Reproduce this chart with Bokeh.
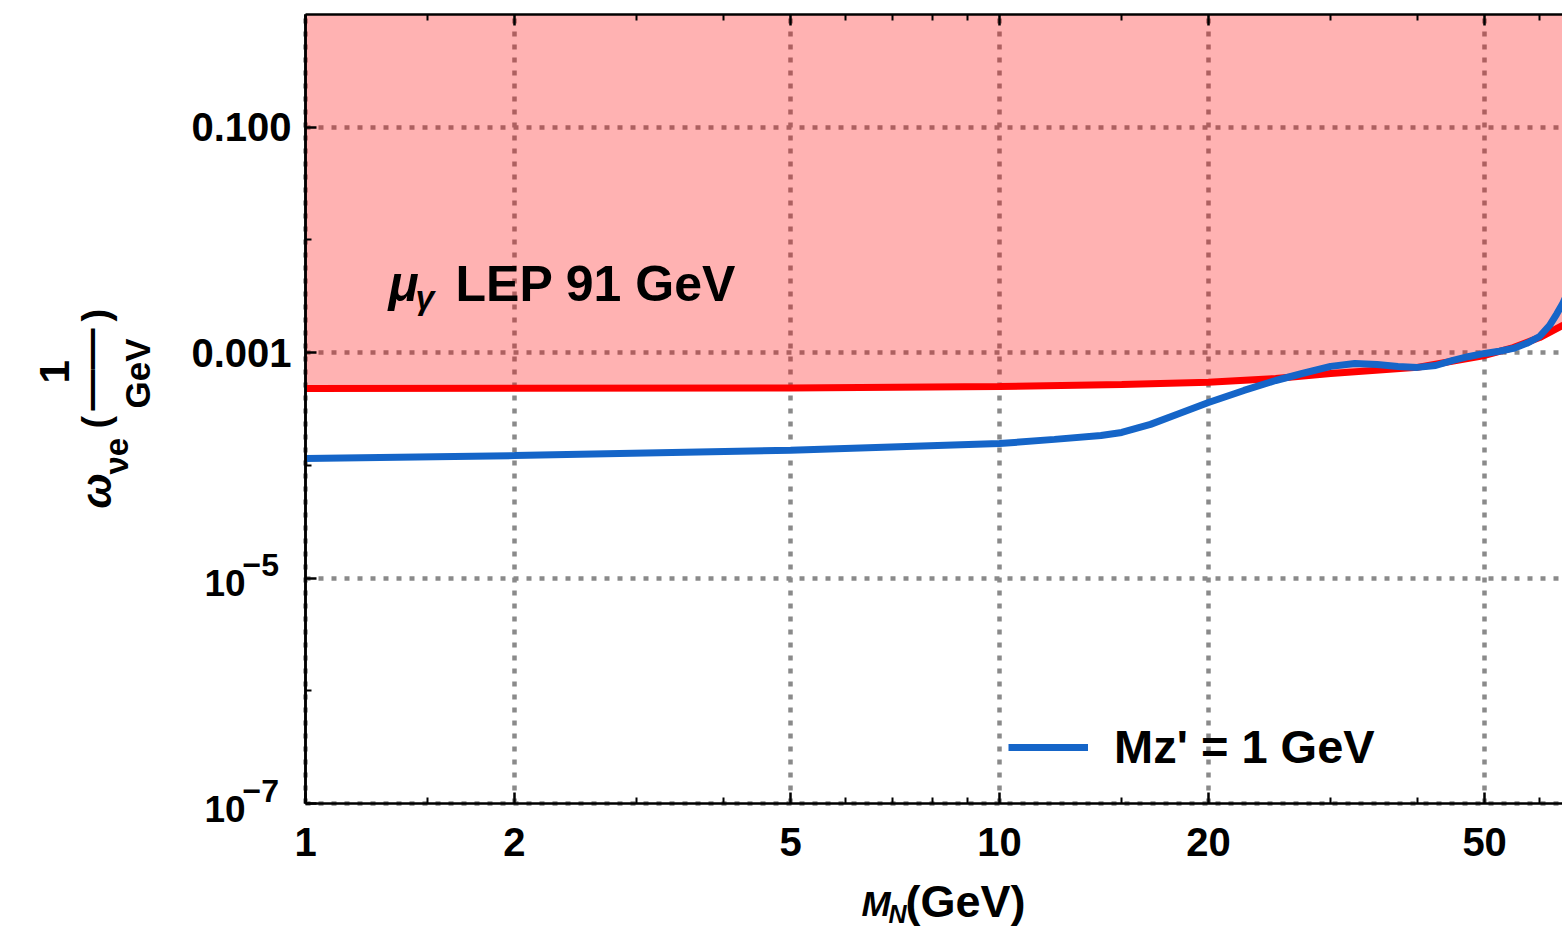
import math
from bokeh.plotting import figure
from bokeh.models import (Range1d, FixedTicker, LogAxis, Label, Legend, LegendItem,
                          ColumnDataSource)
from bokeh.embed import file_html
from bokeh.resources import INLINE

# ---------------- data ----------------
mn_red = [1, 2, 5, 10, 15, 20, 25, 30, 40, 50, 55, 60, 64.7, 70]
omega_red = [4.81e-4, 4.84e-4, 4.86e-4, 5.0e-4, 5.22e-4, 5.45e-4, 5.9e-4, 6.53e-4,
             7.4e-4, 9.44e-4, 1.11e-3, 1.36e-3, 1.74e-3, 2.0e-3]
omega_top = [1.0] * len(mn_red)

mn_blue = [1, 2, 5, 10, 12, 14, 15, 16.5, 18, 20, 22.5, 25, 27.3, 30, 32.5, 35, 37.5,
           40, 42.5, 45, 47.5, 50, 52.5, 55, 57.5, 60, 62, 63.5, 64.7, 66]
omega_blue = [1.15e-4, 1.22e-4, 1.36e-4, 1.56e-4, 1.70e-4, 1.84e-4, 1.96e-4, 2.31e-4,
              2.83e-4, 3.61e-4, 4.62e-4, 5.66e-4, 6.53e-4, 7.55e-4, 8.02e-4, 7.85e-4,
              7.55e-4, 7.40e-4, 7.69e-4, 8.53e-4, 9.25e-4, 9.84e-4, 1.03e-3, 1.09e-3,
              1.21e-3, 1.39e-3, 1.74e-3, 2.2e-3, 2.68e-3, 3.5e-3]

x_major = [1, 2, 5, 10, 20, 50]
x_minor = [1.5, 3, 4, 6, 7, 8, 9, 15, 30, 40, 60, 70, 80, 90]
y_major = [1e-7, 1e-5, 1e-3, 1e-1]
y_decimal = [1e-3, 1e-1]          # labelled as decimals
y_power = [1e-7, 1e-5]            # labelled as powers of ten
y_minor = [1e-6, 1e-4, 1e-2]
x_labels = {1: "1", 2: "2", 5: "5", 10: "10", 20: "20", 50: "50"}
y_labels = {1e-1: "0.100", 1e-3: "0.001"}
y_exponents = ["\u22127", "\u22125"]

legend_text = "Mz' = 1 GeV"
region_text = "LEP 91 GeV"

# ---------------- geometry ----------------
W, H = 1562, 940
FL, FR, FT, FB = 305, 1562, 14, 803   # edges of the plotting box in canvas px
X0, X1, Y0, Y1 = 1.0, 64.74, 1e-7, 1.0
FONT = "Liberation Sans"
SHIFT = 0.37   # baseline correction (fraction of font size)


def dx(cx):
    lx0, lx1 = math.log10(X0), math.log10(X1)
    return 10 ** (lx0 + (cx - FL) / (FR - FL) * (lx1 - lx0))


def dy(cy):
    ly0, ly1 = math.log10(Y0), math.log10(Y1)
    return 10 ** (ly0 + (FB - cy) / (FB - FT) * (ly1 - ly0))


def cy_of(v):
    ly0, ly1 = math.log10(Y0), math.log10(Y1)
    return FB - (math.log10(v) - ly0) / (ly1 - ly0) * (FB - FT)


# the frame covers the whole canvas; axes are pinned to the plotting box
p = figure(width=W, height=H, x_axis_type="log", y_axis_type="log",
           x_range=Range1d(dx(0), dx(W)), y_range=Range1d(dy(H), dy(0)),
           output_backend="svg", toolbar_location=None,
           min_border_left=0, min_border_right=0, min_border_top=0,
           min_border_bottom=0)
p.outline_line_color = None
p.background_fill_color = "white"
p.border_fill_color = "white"
p.xgrid.visible = False
p.ygrid.visible = False


def style_axis(ax):
    ax.axis_line_color = "black"
    ax.axis_line_width = 2.5
    ax.major_tick_in = 11
    ax.major_tick_out = 0
    ax.minor_tick_in = 6
    ax.minor_tick_out = 0
    ax.major_tick_line_width = 2.5
    ax.minor_tick_line_width = 2
    ax.major_label_text_font = FONT
    ax.major_label_text_font_style = "bold"
    ax.major_label_text_font_size = "40px"
    ax.major_label_text_color = "black"


# dotted grid: long inward ticks of pinned helper axes, drawn under the data
gx = LogAxis(ticker=FixedTicker(ticks=x_major, minor_ticks=[]), fixed_location=Y0,
             bounds=(X0, X1), level="underlay")
gy = LogAxis(ticker=FixedTicker(ticks=y_major, minor_ticks=[]), fixed_location=X0,
             bounds=(Y0, Y1), level="underlay")
for g, length in ((gx, FB - FT), (gy, FR - FL)):
    g.axis_line_color = None
    g.minor_tick_line_color = None
    g.major_label_text_color = None
    g.major_tick_out = 0
    g.major_tick_in = length
    g.major_tick_line_color = "#8a8a8a"
    g.major_tick_line_width = 4.5
    g.major_tick_line_dash = "5 8"
    g.major_tick_line_cap = "butt"
p.add_layout(gx, "below")
p.add_layout(gy, "left")

xa, ya = p.xaxis[0], p.yaxis[0]
style_axis(xa)
style_axis(ya)
xa.ticker = FixedTicker(ticks=x_major, minor_ticks=x_minor)
ya.ticker = FixedTicker(ticks=y_decimal, minor_ticks=y_minor)
xa.fixed_location = Y0
ya.fixed_location = X0
xa.bounds = (X0, X1)
ya.bounds = (Y0, Y1)
xa.major_label_overrides = x_labels
ya.major_label_overrides = y_labels
xa.major_label_standoff = 24
ya.major_label_standoff = 14

ya2 = LogAxis(ticker=FixedTicker(ticks=y_power, minor_ticks=[]))
style_axis(ya2)
ya2.fixed_location = X0
ya2.bounds = (Y0, Y1)
ya2.major_label_text_color = None
p.add_layout(ya2, "left")

top = LogAxis(ticker=FixedTicker(ticks=x_major, minor_ticks=x_minor))
style_axis(top)
top.fixed_location = Y1
top.bounds = (X0, X1)
top.major_label_text_color = None
top.major_label_standoff = 0
p.add_layout(top, "above")

# ---------------- glyphs ----------------
src_red = ColumnDataSource(dict(x=mn_red, y=omega_red, top=omega_top))
p.varea(x="x", y1="y", y2="top", source=src_red, fill_color="#ff0000", fill_alpha=0.30)
p.line(x="x", y="y", source=src_red, line_color="#ff0000", line_width=7)
blue = p.line(x=mn_blue, y=omega_blue, line_color="#1565c8", line_width=7)

# ---------------- legend ----------------
leg = Legend(items=[LegendItem(label=legend_text, renderers=[blue])],
             location=(1010 - 2, H - 749 - 25), orientation="vertical",
             border_line_color=None, background_fill_alpha=0.0,
             padding=0, margin=0, spacing=0,
             glyph_width=80, glyph_height=50, label_height=50, label_standoff=26,
             label_text_font=FONT, label_text_font_style="bold",
             label_text_font_size="47px", label_text_color="black")
p.add_layout(leg, "center")


# ---------------- texts placed by canvas pixel (baseline start point) ----------------
def lbl(cx, cy, text, size, style="bold", angle=0.0):
    if angle == 0.0:
        cy = cy - SHIFT * size
    else:
        cx = cx - SHIFT * size
    p.add_layout(Label(x=dx(cx), y=dy(cy), text=text, text_font=FONT,
                       text_font_style=style, text_font_size=f"{size}px",
                       text_color="black", angle=angle, text_align="left",
                       text_baseline="alphabetic"))


# region label
lbl(388, 302, "\u03bc", 50, "bold italic")
lbl(415, 309, "\u03b3", 34, "bold italic")
lbl(455, 302, region_text, 50)

# y tick labels with exponents (10^-7, 10^-5)
for v, ex in zip(y_power, y_exponents):
    c = cy_of(v)
    lbl(204, c + 19, "10", 37)
    lbl(242, c - 1, ex, 32)

# x axis title  M_N (GeV)
lbl(861, 916, "M", 35, "bold italic")
lbl(888, 923, "N", 25, "bold italic")
lbl(905, 918, "(GeV)", 45)

# y axis title  omega_{nu e} (1/GeV), rotated
R = math.pi / 2
lbl(112, 508, "\u03c9", 42, "bold italic", angle=R)
lbl(128, 474, "\u03bde", 33, angle=R)
lbl(110, 428, "(", 38, angle=R)
lbl(70, 383, "1", 42, angle=R)
lbl(105, 410, "\u2014\u2014", 41, angle=R)
lbl(150, 408, "GeV", 35, angle=R)
lbl(110, 321, ")", 38, angle=R)

open("out.html", "w").write(file_html(p, INLINE))
